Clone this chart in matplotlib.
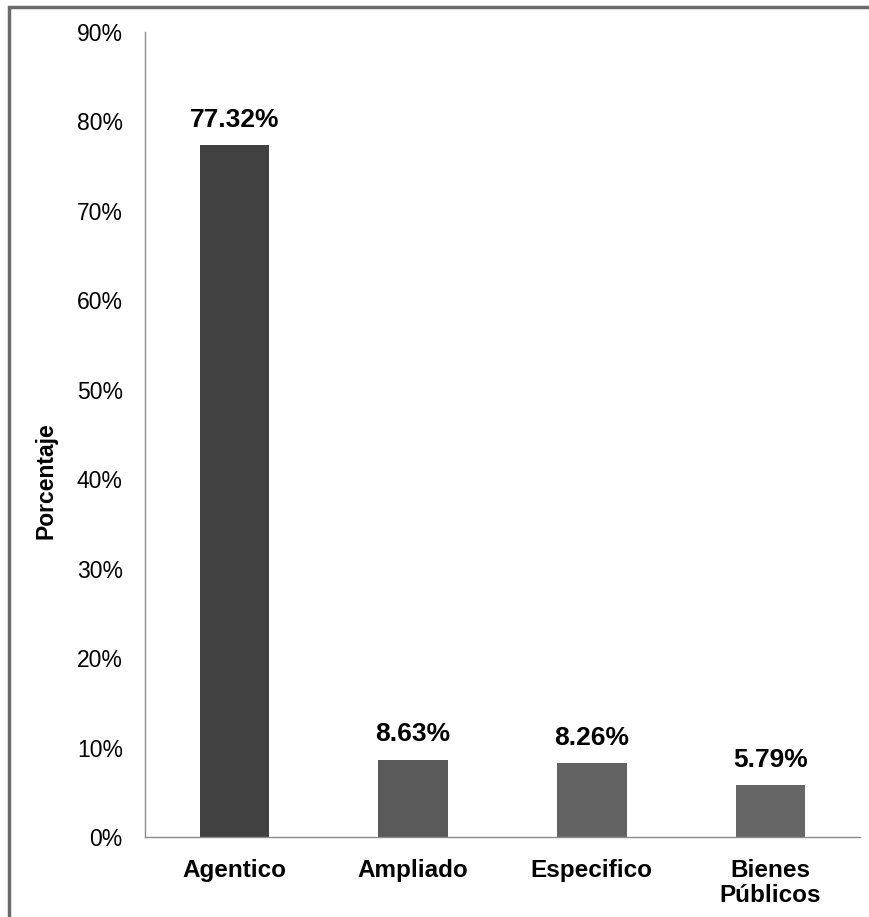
import matplotlib
matplotlib.use('Agg')
from matplotlib import pyplot as plt
from matplotlib.patches import Rectangle
from matplotlib.ticker import FuncFormatter

plt.rcParams['font.family'] = ['Liberation Sans', 'DejaVu Sans']

# datos
categorias = ['Agentico', 'Ampliado', 'Especifico', 'Bienes\nPúblicos']
valores = [77.32, 8.63, 8.26, 5.79]
colores = ['#414141', '#5a5a5a', '#636363', '#666666']
ticks_y = [0, 10, 20, 30, 40, 50, 60, 70, 80, 90]

fig = plt.figure(figsize=(8.7, 9.17), dpi=100)
ax = fig.add_axes([145 / 870, 1 - 837 / 917, 715 / 870, 805 / 917])

x = range(len(categorias))
ax.bar(x, valores, width=0.39, color=colores)

for i, v in enumerate(valores):
    ax.text(i, v + 1.5, '%.2f%%' % v, ha='center', va='bottom',
            fontsize=19, fontweight='bold', color='black')

ax.set_xlim(-0.5, len(categorias) - 0.5)
ax.set_ylim(0, 90)
ax.set_yticks(ticks_y)
ax.yaxis.set_major_formatter(FuncFormatter(lambda v, p: '%d%%' % v))
ax.set_xticks(list(x))
ax.set_xticklabels(categorias, fontweight='bold', fontsize=17.5, va='top',
                   linespacing=1.1)
ax.tick_params(axis='y', length=0, pad=16, labelsize=16.5)
ax.tick_params(axis='x', length=0, pad=16)
ax.set_ylabel('Porcentaje', fontweight='bold', fontsize=16.5)
ax.yaxis.set_label_coords(-0.122, 0.443)

for s in ['top', 'right']:
    ax.spines[s].set_visible(False)
for s in ['left', 'bottom']:
    ax.spines[s].set_color('#8c8c8c')
    ax.spines[s].set_linewidth(1.0)

# marco gris exterior
marco = Rectangle((9 / 870, -0.2), 1.2, 0.2 + 1 - 7 / 917,
                  transform=fig.transFigure, fill=False,
                  edgecolor='#6b6b6b', linewidth=2.5, clip_on=False)
fig.patches.append(marco)

plt.savefig('out.png', dpi=100)
